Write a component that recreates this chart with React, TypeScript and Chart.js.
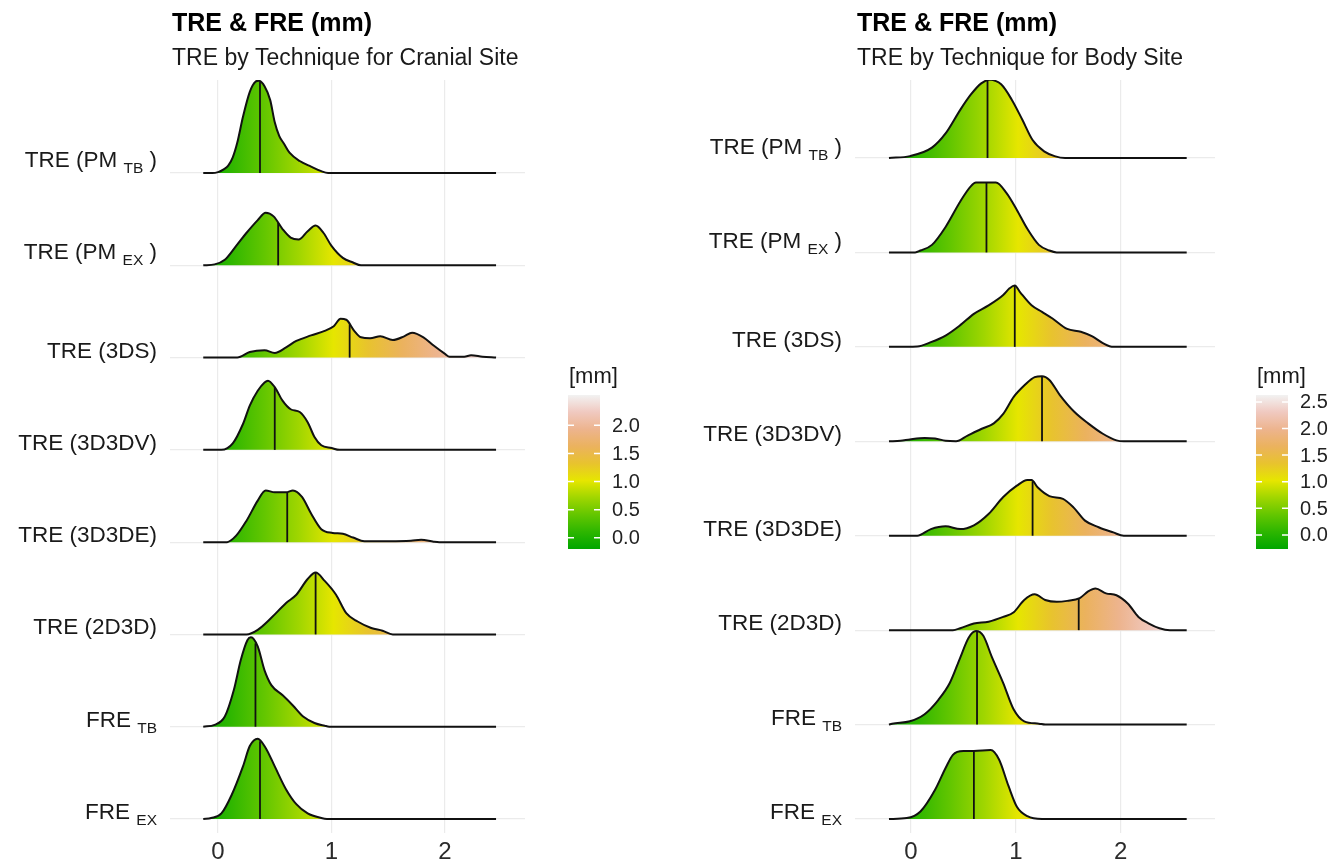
import React, { useEffect, useRef } from "react";
import { Chart, registerables } from "chart.js";
Chart.register(...registerables);

const FONT = '"Liberation Sans", Arial, Helvetica, sans-serif';
Chart.defaults.font.family = FONT;

// ---------- categories (top to bottom) ----------
const techniques = ["PM_TB", "PM_EX", "3DS", "3D3DV", "3D3DE", "2D3D", "FRE_TB", "FRE_EX"];
const labelMain = ["TRE (PM ", "TRE (PM ", "TRE (3DS)", "TRE (3D3DV)", "TRE (3D3DE)", "TRE (2D3D)", "FRE ", "FRE "];
const labelSub = ["TB", "EX", "", "", "", "", "TB", "EX"];
const labelTail = [" )", " )", "", "", "", "", "", ""];

const xTickValues = [0, 1, 2];
const terrainColors = ["#00A600", "#2DB600", "#63C600", "#A0D600", "#E6E600", "#E8C32E", "#EBB25E", "#EDB48E", "#F0C9C0", "#F2F2F2"];

// ---------- Cranial site densities (x in mm, d = ridge height in row units) ----------
const cranialPmTbX = [-0.13, -0.05, 0.0, 0.05, 0.09, 0.13, 0.17, 0.22, 0.28, 0.33, 0.36, 0.41, 0.46, 0.5, 0.54, 0.58, 0.63, 0.72, 0.82, 0.91, 0.97, 2.45];
const cranialPmTbD = [0, 0, 0.01, 0.04, 0.08, 0.17, 0.33, 0.61, 0.88, 0.99, 1.0, 0.94, 0.79, 0.55, 0.4, 0.32, 0.22, 0.13, 0.07, 0.02, 0, 0];
const cranialPmExX = [-0.13, -0.03, 0.06, 0.16, 0.25, 0.35, 0.42, 0.49, 0.57, 0.64, 0.71, 0.79, 0.86, 0.93, 1.0, 1.1, 1.19, 1.26, 2.45];
const cranialPmExD = [0, 0.01, 0.06, 0.21, 0.35, 0.49, 0.57, 0.53, 0.39, 0.3, 0.28, 0.37, 0.43, 0.35, 0.21, 0.08, 0.03, 0, 0];
const cranial3dsX = [-0.13, 0.17, 0.28, 0.41, 0.5, 0.6, 0.69, 0.82, 0.94, 1.02, 1.08, 1.13, 1.2, 1.26, 1.34, 1.43, 1.54, 1.64, 1.71, 1.81, 1.9, 2.0, 2.04, 2.17, 2.23, 2.33, 2.45];
const cranial3dsD = [0, 0, 0.06, 0.08, 0.05, 0.11, 0.18, 0.24, 0.29, 0.34, 0.42, 0.41, 0.29, 0.22, 0.21, 0.23, 0.19, 0.23, 0.27, 0.22, 0.13, 0.04, 0.01, 0.01, 0.025, 0.01, 0];
const cranial3d3dvX = [-0.13, 0.03, 0.13, 0.22, 0.28, 0.35, 0.41, 0.44, 0.5, 0.57, 0.64, 0.72, 0.79, 0.85, 0.91, 1.0, 1.07, 2.45];
const cranial3d3dvD = [0, 0, 0.07, 0.28, 0.48, 0.64, 0.73, 0.75, 0.68, 0.53, 0.44, 0.41, 0.3, 0.14, 0.05, 0.02, 0, 0];
const cranial3d3deX = [-0.13, 0.08, 0.16, 0.25, 0.35, 0.42, 0.5, 0.6, 0.66, 0.74, 0.82, 0.91, 1.01, 1.1, 1.19, 1.29, 1.51, 1.7, 1.79, 1.9, 1.95, 2.45];
const cranial3d3deD = [0, 0, 0.07, 0.23, 0.45, 0.56, 0.54, 0.54, 0.56, 0.49, 0.31, 0.14, 0.1, 0.09, 0.05, 0.01, 0.01, 0.015, 0.025, 0.005, 0, 0];
const cranial2d3dX = [-0.13, 0.25, 0.35, 0.47, 0.6, 0.69, 0.79, 0.86, 0.94, 1.04, 1.13, 1.23, 1.35, 1.45, 1.54, 2.45];
const cranial2d3dD = [0, 0, 0.05, 0.18, 0.34, 0.43, 0.6, 0.67, 0.58, 0.43, 0.23, 0.14, 0.07, 0.04, 0, 0];
const cranialFreTbX = [-0.13, -0.03, 0.06, 0.14, 0.2, 0.26, 0.29, 0.35, 0.41, 0.47, 0.57, 0.66, 0.75, 0.85, 0.94, 0.98, 2.45];
const cranialFreTbD = [0, 0.02, 0.11, 0.4, 0.72, 0.94, 0.97, 0.87, 0.61, 0.45, 0.34, 0.23, 0.11, 0.04, 0.01, 0, 0];
const cranialFreExX = [-0.13, -0.06, 0.03, 0.12, 0.22, 0.28, 0.35, 0.42, 0.5, 0.6, 0.69, 0.79, 0.91, 0.96, 2.45];
const cranialFreExD = [0, 0.01, 0.06, 0.26, 0.57, 0.79, 0.87, 0.77, 0.57, 0.32, 0.16, 0.06, 0.01, 0, 0];
const cranialMedians = [0.37, 0.53, 1.16, 0.5, 0.61, 0.86, 0.33, 0.37];
const cranialLegendTicks = [0, 0.5, 1, 1.5, 2];

// ---------- Body site densities ----------
const bodyPmTbX = [-0.21, -0.01, 0.2, 0.33, 0.47, 0.57, 0.67, 0.75, 0.86, 0.96, 1.06, 1.16, 1.27, 1.37, 1.47, 2.63];
const bodyPmTbD = [0, 0.02, 0.11, 0.26, 0.51, 0.67, 0.79, 0.83, 0.78, 0.62, 0.41, 0.19, 0.07, 0.02, 0, 0];
const bodyPmExX = [-0.21, 0.04, 0.09, 0.2, 0.33, 0.47, 0.57, 0.62, 0.81, 0.91, 1.01, 1.11, 1.22, 1.32, 1.39, 2.63];
const bodyPmExD = [0, 0, 0.02, 0.08, 0.27, 0.54, 0.7, 0.74, 0.74, 0.63, 0.45, 0.25, 0.08, 0.02, 0, 0];
const body3dsX = [-0.21, 0.06, 0.19, 0.33, 0.47, 0.6, 0.74, 0.88, 0.94, 0.99, 1.04, 1.15, 1.25, 1.35, 1.49, 1.62, 1.73, 1.83, 1.93, 2.63];
const body3dsD = [0, 0.005, 0.05, 0.12, 0.23, 0.35, 0.44, 0.55, 0.62, 0.65, 0.58, 0.44, 0.37, 0.3, 0.19, 0.16, 0.11, 0.04, 0, 0];
const body3d3dvX = [-0.21, -0.1, -0.01, 0.13, 0.23, 0.33, 0.43, 0.54, 0.67, 0.79, 0.88, 0.98, 1.08, 1.18, 1.25, 1.32, 1.42, 1.56, 1.69, 1.83, 1.96, 2.03, 2.63];
const body3d3dvD = [0, 0.005, 0.02, 0.035, 0.03, 0.005, 0, 0.06, 0.13, 0.19, 0.29, 0.47, 0.59, 0.68, 0.69, 0.65, 0.49, 0.31, 0.19, 0.08, 0.01, 0, 0];
const body3d3deX = [-0.21, 0.06, 0.19, 0.33, 0.47, 0.6, 0.74, 0.88, 1.01, 1.11, 1.15, 1.21, 1.32, 1.45, 1.55, 1.66, 1.79, 1.93, 2.03, 2.63];
const body3d3deD = [0, 0, 0.07, 0.1, 0.07, 0.11, 0.23, 0.41, 0.53, 0.59, 0.59, 0.51, 0.42, 0.39, 0.3, 0.16, 0.09, 0.035, 0, 0];
const body2d3dX = [-0.21, 0.4, 0.47, 0.6, 0.74, 0.88, 0.98, 1.08, 1.18, 1.28, 1.39, 1.49, 1.61, 1.69, 1.76, 1.86, 1.96, 2.07, 2.17, 2.27, 2.37, 2.47, 2.63];
const body2d3dD = [0, 0, 0.02, 0.07, 0.09, 0.14, 0.19, 0.32, 0.38, 0.32, 0.3, 0.31, 0.34, 0.41, 0.44, 0.39, 0.37, 0.28, 0.14, 0.07, 0.02, 0, 0];
const bodyFreTbX = [-0.21, -0.18, -0.01, 0.13, 0.26, 0.37, 0.47, 0.55, 0.62, 0.69, 0.77, 0.88, 0.98, 1.08, 1.22, 1.28, 2.63];
const bodyFreTbD = [0, 0.01, 0.035, 0.11, 0.26, 0.44, 0.71, 0.92, 0.99, 0.94, 0.72, 0.44, 0.16, 0.035, 0.01, 0, 0];
const bodyFreExX = [-0.21, -0.04, 0.09, 0.23, 0.33, 0.4, 0.5, 0.6, 0.76, 0.84, 0.93, 1.01, 1.11, 1.25, 2.63];
const bodyFreExD = [0, 0.01, 0.08, 0.31, 0.54, 0.68, 0.72, 0.72, 0.73, 0.63, 0.35, 0.13, 0.03, 0, 0];
const bodyMedians = [0.73, 0.72, 0.99, 1.25, 1.16, 1.6, 0.63, 0.6];
const bodyLegendTicks = [0, 0.5, 1, 1.5, 2, 2.5];

// ---------- panel configurations (built from the arrays above) ----------
const cranialPanel = {
  title: "TRE & FRE (mm)",
  subtitle: "TRE by Technique for Cranial Site",
  xs: [cranialPmTbX, cranialPmExX, cranial3dsX, cranial3d3dvX, cranial3d3deX, cranial2d3dX, cranialFreTbX, cranialFreExX],
  ds: [cranialPmTbD, cranialPmExD, cranial3dsD, cranial3d3dvD, cranial3d3deD, cranial2d3dD, cranialFreTbD, cranialFreExD],
  medians: cranialMedians,
  legendTicks: cranialLegendTicks,
  colorDomain: [-0.2, 2.54],
  xMin: -0.423, xMax: 2.705,
  yMin: -0.152, yMax: 8.008,
  canvasLeft: 0, canvasWidth: 660,
  areaLeft: 170, areaRight: 525,
  barX: 568,
  labelLift: [6, 6, 0, 0, 0, 0, 0, 0],
};
const bodyPanel = {
  title: "TRE & FRE (mm)",
  subtitle: "TRE by Technique for Body Site",
  xs: [bodyPmTbX, bodyPmExX, body3dsX, body3d3dvX, body3d3deX, body2d3dX, bodyFreTbX, bodyFreExX],
  ds: [bodyPmTbD, bodyPmExD, body3dsD, body3d3dvD, body3d3deD, body2d3dD, bodyFreTbD, bodyFreExD],
  medians: bodyMedians,
  legendTicks: bodyLegendTicks,
  colorDomain: [-0.265, 2.63],
  xMin: -0.534, xMax: 2.9,
  yMin: -0.148, yMax: 7.826,
  canvasLeft: 660, canvasWidth: 684,
  areaLeft: 195, areaRight: 555,
  barX: 596,
  labelLift: [4, 4, 0, 0, 0, 0, 0, 0],
};

const H = 865;
const AREA_TOP = 80;
const AREA_BOTTOM = 833;
const BAR_TOP = 395;
const BAR_BOTTOM = 549;

function densityAt(xs: number[], ds: number[], v: number) {
  for (let i = 0; i < xs.length - 1; i++) {
    if (v >= xs[i] && v <= xs[i + 1]) {
      const t = (v - xs[i]) / (xs[i + 1] - xs[i]);
      return ds[i] + t * (ds[i + 1] - ds[i]);
    }
  }
  return 0;
}

function Panel({ cfg }: { cfg: any }) {
  const ref = useRef<HTMLCanvasElement | null>(null);
  useEffect(() => {
    if (!ref.current) return;
    const n = techniques.length;
    const gradientCache: { key: string; g: any } = { key: "", g: null };
    const makeGradient = (chart: any) => {
      const area = chart.chartArea;
      if (!area || !isFinite(area.left) || !isFinite(area.right) || area.right <= area.left) return terrainColors[0];
      const key = `${area.left}-${area.right}`;
      if (gradientCache.key === key && gradientCache.g) return gradientCache.g;
      const span = cfg.xMax - cfg.xMin;
      const x0 = area.left + ((cfg.colorDomain[0] - cfg.xMin) / span) * (area.right - area.left);
      const x1 = area.left + ((cfg.colorDomain[1] - cfg.xMin) / span) * (area.right - area.left);
      const g = chart.ctx.createLinearGradient(x0, 0, x1, 0);
      terrainColors.forEach((c, i) => g.addColorStop(i / (terrainColors.length - 1), c));
      gradientCache.key = key;
      gradientCache.g = g;
      return g;
    };
    const datasets: any[] = [];
    for (let i = 0; i < n; i++) {
      const row = n - 1 - i;
      const xs: number[] = cfg.xs[i];
      const ds: number[] = cfg.ds[i];
      datasets.push({
        label: techniques[i],
        data: xs.map((x, k) => ({ x, y: row + ds[k] })),
        borderColor: "#111111",
        borderWidth: 2,
        pointRadius: 0,
        cubicInterpolationMode: "monotone",
        fill: { value: row },
        backgroundColor: (ctx: any) => makeGradient(ctx.chart),
        order: 2 * row + 1,
      });
      const m = cfg.medians[i];
      datasets.push({
        label: techniques[i] + " median",
        data: [{ x: m, y: row }, { x: m, y: row + densityAt(xs, ds, m) }],
        borderColor: "#111111",
        borderWidth: 1.8,
        pointRadius: 0,
        fill: false,
        order: 2 * row,
      });
    }

    const decor = {
      id: "decor",
      afterDraw(chart: any) {
        const ctx = chart.ctx;
        const area = chart.chartArea;
        const ys = chart.scales.y;
        ctx.save();
        ctx.textBaseline = "alphabetic";
        ctx.textAlign = "left";
        ctx.fillStyle = "#000";
        ctx.font = `bold 25px ${FONT}`;
        ctx.fillText(cfg.title, area.left + 2, 31);
        ctx.fillStyle = "#1a1a1a";
        ctx.font = `23px ${FONT}`;
        ctx.fillText(cfg.subtitle, area.left + 2, 65);
        const mainFont = `22.5px ${FONT}`;
        const subFont = `15.5px ${FONT}`;
        const rightX = area.left - 13;
        for (let i = 0; i < n; i++) {
          const row = n - 1 - i;
          const base = ys.getPixelForValue(row) - cfg.labelLift[i];
          ctx.font = mainFont;
          const w1 = ctx.measureText(labelMain[i]).width;
          const w3 = ctx.measureText(labelTail[i]).width;
          ctx.font = subFont;
          const w2 = labelSub[i] ? ctx.measureText(labelSub[i]).width : 0;
          let x = rightX - (w1 + w2 + w3);
          ctx.fillStyle = "#1a1a1a";
          ctx.font = mainFont;
          ctx.fillText(labelMain[i], x, base);
          x += w1;
          if (labelSub[i]) {
            ctx.font = subFont;
            ctx.fillText(labelSub[i], x, base + 6);
            x += w2;
          }
          if (labelTail[i]) {
            ctx.font = mainFont;
            ctx.fillText(labelTail[i], x, base);
          }
        }
        const bx = cfg.barX;
        const bw = 32;
        ctx.fillStyle = "#1a1a1a";
        ctx.font = `22px ${FONT}`;
        ctx.textBaseline = "middle";
        ctx.fillText("[mm]", bx + 1, 377);
        const g = ctx.createLinearGradient(0, BAR_BOTTOM, 0, BAR_TOP);
        terrainColors.forEach((c, i) => g.addColorStop(i / (terrainColors.length - 1), c));
        ctx.fillStyle = g;
        ctx.fillRect(bx, BAR_TOP, bw, BAR_BOTTOM - BAR_TOP);
        const [d0, d1] = cfg.colorDomain;
        ctx.font = `20px ${FONT}`;
        for (const v of cfg.legendTicks) {
          const y = BAR_BOTTOM - ((v - d0) / (d1 - d0)) * (BAR_BOTTOM - BAR_TOP);
          ctx.strokeStyle = "#ffffff";
          ctx.lineWidth = 1.5;
          ctx.beginPath();
          ctx.moveTo(bx, y);
          ctx.lineTo(bx + 6, y);
          ctx.moveTo(bx + bw - 6, y);
          ctx.lineTo(bx + bw, y);
          ctx.stroke();
          ctx.fillStyle = "#222";
          ctx.fillText(v.toFixed(1), bx + 44, y + 1);
        }
        ctx.restore();
      },
    };

    const chart = new Chart(ref.current, {
      type: "line",
      data: { datasets },
      options: {
        animation: false,
        responsive: false,
        maintainAspectRatio: false,
        layout: {
          padding: { left: cfg.areaLeft, right: cfg.canvasWidth - cfg.areaRight, top: AREA_TOP, bottom: 0 },
        },
        plugins: {
          legend: { display: false },
          tooltip: { enabled: false },
          title: { display: false },
        },
        elements: { point: { radius: 0 } },
        scales: {
          x: {
            type: "linear",
            min: cfg.xMin,
            max: cfg.xMax,
            afterBuildTicks: (s: any) => {
              s.ticks = xTickValues.map((v) => ({ value: v }));
            },
            afterFit: (s: any) => {
              s.height = H - AREA_BOTTOM;
            },
            grid: { color: "#EBEBEB", lineWidth: 1.2, drawTicks: false },
            border: { display: false },
            ticks: {
              padding: 5,
              color: "#2b2b2b",
              font: { size: 24, family: FONT },
              callback: (v: any) => String(v),
            },
          },
          y: {
            type: "linear",
            min: cfg.yMin,
            max: cfg.yMax,
            afterBuildTicks: (s: any) => {
              s.ticks = techniques.map((_, i) => ({ value: i }));
            },
            afterFit: (s: any) => {
              s.width = 0;
            },
            grid: { color: "#EBEBEB", lineWidth: 1.2, drawTicks: false },
            border: { display: false },
            ticks: { display: false },
          },
        },
      } as any,
      plugins: [decor],
    });
    return () => chart.destroy();
  }, [cfg]);
  return (
    <canvas
      ref={ref}
      width={cfg.canvasWidth}
      height={H}
      style={{ position: "absolute", left: cfg.canvasLeft, top: 0, width: cfg.canvasWidth, height: H }}
    />
  );
}

export default function App() {
  return (
    <div style={{ position: "fixed", left: 0, top: 0, width: 1344, height: H, background: "#ffffff", overflow: "hidden" }}>
      <Panel cfg={cranialPanel} />
      <Panel cfg={bodyPanel} />
    </div>
  );
}
